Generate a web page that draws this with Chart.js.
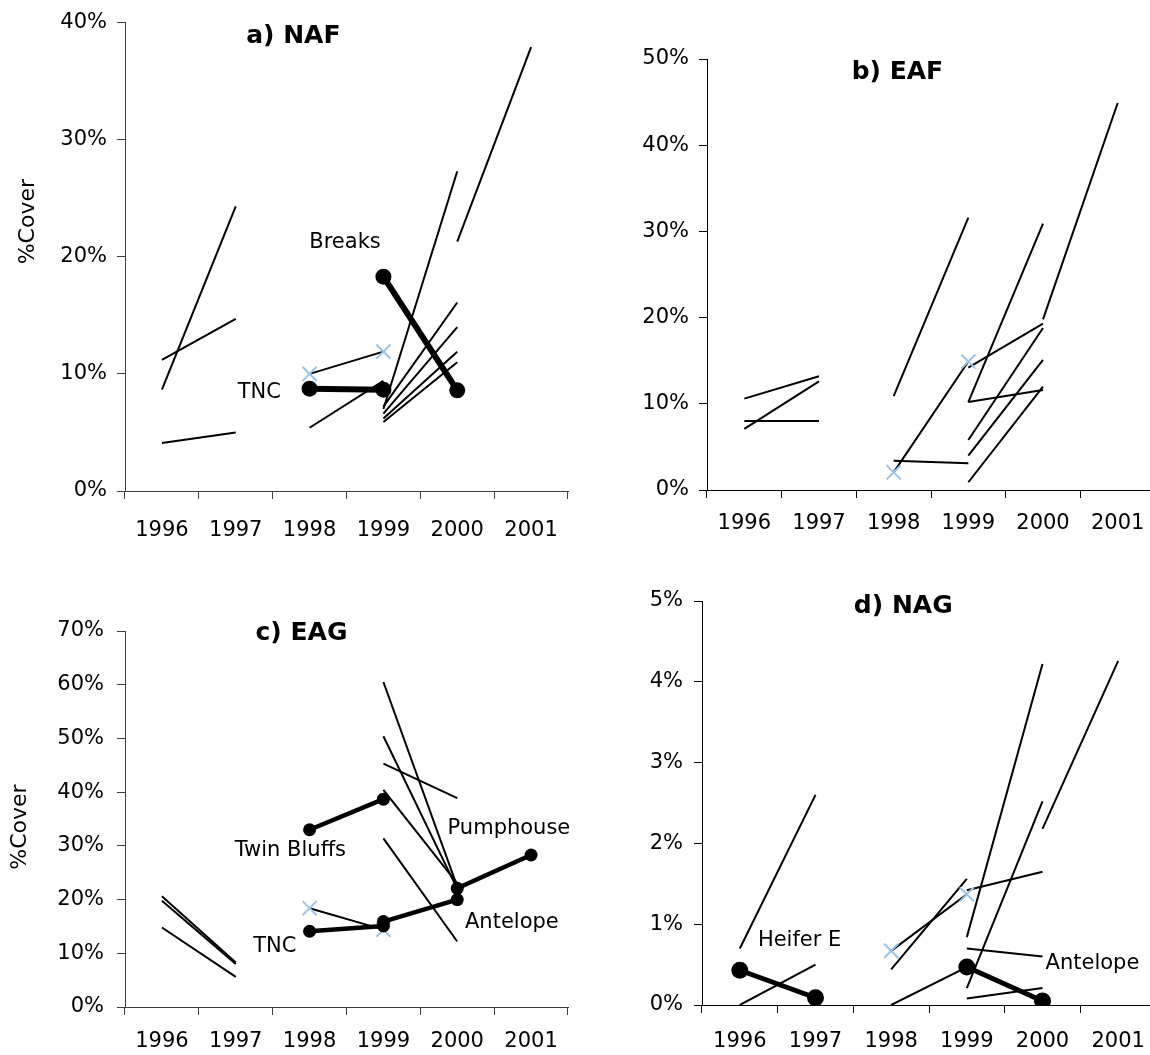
<!DOCTYPE html>
<html>
<head>
<meta charset="utf-8">
<script src="https://cdn.jsdelivr.net/npm/chart.js@4.4.1/dist/chart.umd.min.js"></script>
<style>
html, body { margin: 0; padding: 0; background: #fff; width: 1150px; height: 1055px; overflow: hidden; position: relative; }
canvas { position: absolute; }
</style>
</head>
<body>
<canvas id="naf" width="580" height="540" style="left:0;top:0"></canvas>
<canvas id="eaf" width="590" height="540" style="left:580px;top:0"></canvas>
<canvas id="eag" width="580" height="515" style="left:0;top:540px"></canvas>
<canvas id="nag" width="590" height="515" style="left:580px;top:540px"></canvas>
<script>
// ---- data: each segment is [index of first year, value, value next year] (% cover) ----
var years = ['1996', '1997', '1998', '1999', '2000', '2001']

// a) NAF
var nafSites = [
	[0, 8.65, 24.3], [0, 11.2, 14.7], [0, 4.1, 5.0],
	[2, 5.4, 9.4],
	[3, 7.0, 27.3], [3, 7.2, 16.1], [3, 6.6, 14.0], [3, 6.2, 11.9], [3, 5.9, 11.0],
	[4, 21.3, 37.9]
]
var nafCross = [2, 10.0, 11.9]
var nafTNC = [2, 8.74, 8.65]
var nafBreaks = [3, 18.3, 8.6]

// b) EAF
var eafSites = [
	[0, 10.6, 13.2], [0, 7.1, 12.6], [0, 8.0, 8.0],
	[2, 10.9, 31.6], [2, 3.4, 3.1],
	[3, 14.2, 19.3], [3, 10.2, 30.9], [3, 10.2, 11.6], [3, 5.8, 18.8], [3, 4.0, 15.1], [3, 0.9, 12.0],
	[4, 19.8, 44.9]
]
var eafCross = [2, 2.05, 14.9]

// c) EAG
var eagSites = [
	[0, 20.6, 8.3], [0, 19.8, 8.0], [0, 14.8, 5.6],
	[3, 60.5, 22.4], [3, 50.4, 22.0], [3, 45.3, 38.9], [3, 40.4, 23.0], [3, 31.4, 12.2]
]
var eagCross = [2, 18.4, 14.4]
var eagTNC = [2, 14.1, 15.1]
var eagTwinBluffs = [2, 33.0, 38.7]
var eagAntelope = [3, 15.9, 20.0]
var eagPumphouse = [4, 22.1, 28.3]

// d) NAG
var nagSites = [
	[0, 0.70, 2.60], [0, 0.0, 0.50],
	[2, 0.44, 1.56], [2, 0.0, 0.47],
	[3, 0.84, 4.22], [3, 0.21, 2.52], [3, 0.70, 0.60], [3, 0.08, 0.21], [3, 1.42, 1.65],
	[4, 2.18, 4.26]
]
var nagCross = [2, 0.67, 1.37]
var nagHeifer = [0, 0.43, 0.09]
var nagAntelope = [3, 0.47, 0.05]

var FONT = 'DejaVu Sans'

// turn a segment into a full row with gaps
function seg(s) {
	var d = years.map(function () { return null })
	d[s[0]] = s[1]
	d[s[0] + 1] = s[2]
	return d
}

// titles, site names and the y title
var notesPlugin = {
	id: 'notes',
	afterDatasetsDraw: function (chart, args, opts) {
		var ctx = chart.ctx, xs = chart.scales.x, ys = chart.scales.y
		ctx.save()
		ctx.fillStyle = '#000'
		ctx.textAlign = 'center'
		ctx.textBaseline = 'middle'
		ctx.font = 'bold 25px "' + FONT + '"'
		ctx.fillText(opts.title[0], xs.getPixelForValue(opts.title[1]), ys.getPixelForValue(opts.title[2]))
		ctx.font = '21px "' + FONT + '"'
		opts.names.forEach(function (n) {
			ctx.fillText(n[0], xs.getPixelForValue(n[1]), ys.getPixelForValue(n[2]))
		})
		if (opts.yTitle) {
			ctx.font = '22px "' + FONT + '"'
			ctx.translate(opts.yTitle[0], ys.getPixelForValue(opts.yTitle[1]))
			ctx.rotate(-Math.PI / 2)
			ctx.fillText('%Cover', 0, 0)
		}
		ctx.restore()
	}
}

function makePanel(id, p) {
	var datasets = []
	p.thick.forEach(function (s) {
		datasets.push({
			data: seg(s), borderColor: '#000', backgroundColor: '#000',
			borderWidth: p.thickW, pointRadius: p.dot, pointBorderWidth: 0,
			pointBackgroundColor: '#000'
		})
	})
	datasets.push({
		data: seg(p.cross), borderColor: '#000', borderWidth: 2,
		pointStyle: 'crossRot', pointRadius: 10, pointBorderWidth: 2,
		pointBorderColor: '#9DC3E6', pointBackgroundColor: '#9DC3E6'
	})
	p.thin.forEach(function (s) {
		datasets.push({ data: seg(s), borderColor: '#000', borderWidth: 2, pointRadius: 0 })
	})

	new Chart(document.getElementById(id), {
		type: 'line',
		data: { labels: years, datasets: datasets },
		options: {
			responsive: false,
			animation: false,
			spanGaps: false,
			elements: { line: { tension: 0 } },
			layout: { padding: { top: p.top, right: p.right, left: 0, bottom: 0 } },
			plugins: {
				legend: { display: false },
				tooltip: { enabled: false },
				notes: { title: p.title, names: p.names, yTitle: p.yTitle }
			},
			scales: {
				x: {
					type: 'category',
					offset: true,
					grid: { offset: true, drawOnChartArea: false, tickLength: 8, color: p.axis },
					border: { color: p.axis, width: 1 },
					ticks: { color: '#000', font: { family: FONT, size: 21 }, padding: p.xpad, maxRotation: 0, autoSkip: false },
					afterFit: function (s) { s.height = p.xh }
				},
				y: {
					min: 0,
					max: p.max,
					grid: { drawOnChartArea: false, tickLength: 8, color: p.axis },
					border: { color: p.axis, width: 1 },
					ticks: {
						stepSize: p.step, color: '#000', font: { family: FONT, size: 21 }, padding: p.ypad,
						callback: function (v) { return v + '%' }
					},
					afterFit: function (s) { s.width = p.yw }
				}
			}
		},
		plugins: [notesPlugin]
	})
}

makePanel('naf', {
	thin: nafSites, cross: nafCross, thick: [nafTNC, nafBreaks],
	thickW: 6, dot: 8, max: 40, step: 10, axis: '#404040',
	top: 21, right: 5, yw: 125, xh: 49, xpad: 19, ypad: 10,
	title: ['a) NAF', 1.78, 38.8],
	names: [['Breaks', 2.48, 21.2], ['TNC', 1.32, 8.45]],
	yTitle: [28, 23]
})

makePanel('eaf', {
	thin: eafSites, cross: eafCross, thick: [],
	thickW: 5, dot: 8, max: 50, step: 10, axis: '#000',
	top: 59, right: 15, yw: 127, xh: 50, xpad: 13, ypad: 10,
	title: ['b) EAF', 2.05, 48.4],
	names: []
})

makePanel('eag', {
	thin: eagSites, cross: eagCross, thick: [eagTNC, eagTwinBluffs, eagAntelope, eagPumphouse],
	thickW: 4.5, dot: 6.5, max: 70, step: 10, axis: '#404040',
	top: 91, right: 5, yw: 125, xh: 48, xpad: 14, ypad: 13,
	title: ['c) EAG', 1.89, 69.5],
	names: [['Twin Bluffs', 1.74, 29.1], ['TNC', 1.53, 11.2], ['Pumphouse', 4.7, 33.3], ['Antelope', 4.74, 15.8]],
	yTitle: [20, 33.5]
})

makePanel('nag', {
	thin: nagSites, cross: nagCross, thick: [nagHeifer, nagAntelope],
	thickW: 5, dot: 8.5, max: 5, step: 1, axis: '#000',
	top: 61, right: 14, yw: 122, xh: 50, xpad: 16, ypad: 11,
	title: ['d) NAG', 2.16, 4.93],
	names: [['Heifer E', 0.79, 0.8], ['Antelope', 4.66, 0.51]]
})
</script>
</body>
</html>
